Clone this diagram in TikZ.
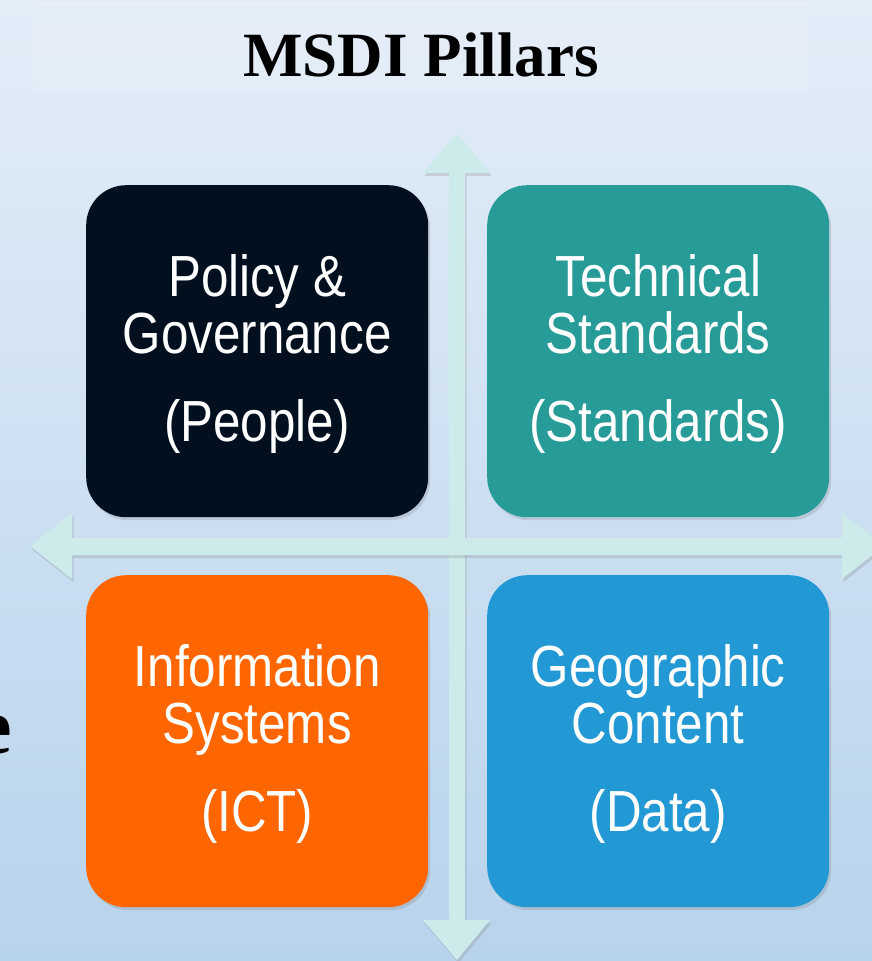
\documentclass[tikz,border=0pt]{standalone}
\usepackage{fontspec}
\setmainfont{Liberation Serif}
\newfontfamily\boxfont[FakeStretch=0.85]{Liberation Sans}
\usetikzlibrary{shadows}
\definecolor{bgtop}{RGB}{227,237,248}
\definecolor{bgbot}{RGB}{184,211,236}
\definecolor{arrowc}{RGB}{205,235,234}
\definecolor{cblack}{RGB}{2,15,31}
\definecolor{cteal}{RGB}{38,155,152}
\definecolor{corange}{RGB}{255,102,0}
\definecolor{cblue}{RGB}{34,152,212}
\tikzset{
  pillarbox/.style={draw=none, rounded corners=40pt, minimum width=342pt, minimum height=332pt,
    inner sep=0pt, anchor=north west,
    drop shadow={opacity=0.25, shadow xshift=2pt, shadow yshift=-3pt}},
  pillartext/.style={text=white, font=\boxfont\fontsize{58}{60}\selectfont, anchor=base, inner sep=0pt},
  crossarrow/.style={fill=arrowc, draw=none,
    drop shadow={opacity=0.25, shadow xshift=1.5pt, shadow yshift=-3pt}},
  titlestyle/.style={font=\bfseries\fontsize{63}{66}\selectfont, text=black, anchor=base, inner sep=0pt}
}
\newcommand{\pillar}[7]{%
  \node[pillarbox, fill=#4] (#1) at (#2,#3) {};
  \node[pillartext] (#1a) at ([yshift=-111pt]#1.north) {#5};
  \node[pillartext] (#1b) at ([yshift=-168pt]#1.north) {#6};
  \node[pillartext] (#1c) at ([yshift=-256pt]#1.north) {#7};
}
\begin{document}
\begin{tikzpicture}[x=1pt,y=-1pt]
\useasboundingbox (0,0) rectangle (872,961);
\clip (0,0) rectangle (872,961);
\shade[top color=bgtop, bottom color=bgbot] (0,0) rectangle (872,961);
% title box
\draw[draw=white, draw opacity=0.2, fill=white, fill opacity=0.1] (33,3) rectangle (807,90);
\node[titlestyle] (title) at (421,76) {MSDI Pillars};
% partially visible letter on left (cut off by the picture edge, as in the reference)
\node[font=\bfseries\fontsize{80}{80}\selectfont, anchor=base east, inner sep=0pt] (leftletter) at (12,753) {e};
% cross arrows
\fill[crossarrow] (457,133) -- (490,173) -- (465,173) -- (465,920) -- (490,920) -- (457,960)
  -- (423,920) -- (449,920) -- (449,173) -- (423,173) -- cycle;
\fill[crossarrow] (30,546) -- (72,513) -- (72,538) -- (842,538) -- (842,513) -- (884,546)
  -- (842,579) -- (842,555) -- (72,555) -- (72,579) -- cycle;
% pillars
\pillar{pol}{86}{185}{cblack}{Policy \&}{Governance}{(People)}
\pillar{tech}{487}{185}{cteal}{Technical}{Standards}{(Standards)}
\pillar{info}{86}{575}{corange}{Information}{Systems}{(ICT)}
\pillar{geo}{487}{575}{cblue}{Geographic}{Content}{(Data)}
\end{tikzpicture}
\end{document}
